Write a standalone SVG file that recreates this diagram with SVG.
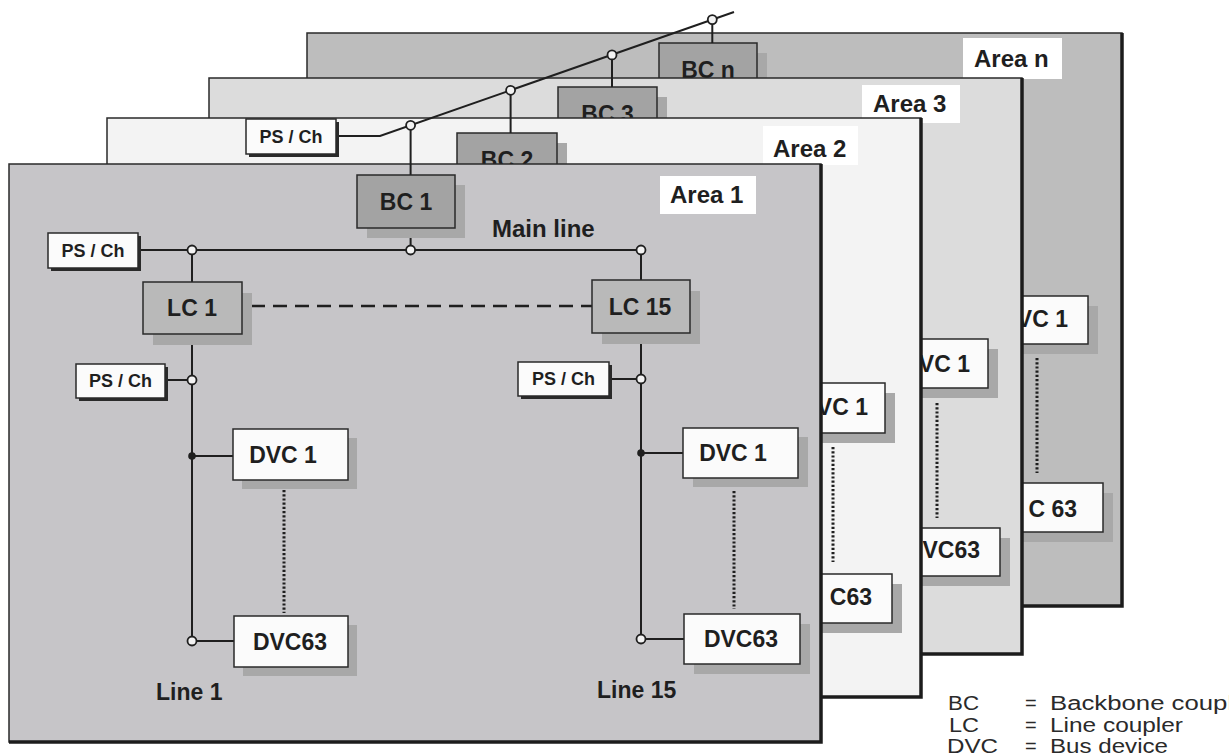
<svg xmlns="http://www.w3.org/2000/svg" width="1229" height="756" viewBox="0 0 1229 756">
<style>
text{font-family:"Liberation Sans",Arial,sans-serif;fill:#1f1f1f}
.lbl{font-size:23px;font-weight:bold}
.alb{font-size:24px;font-weight:bold}
.ps{font-size:18px;font-weight:bold}
.area{stroke:#2a2a2a;stroke-width:1.5}
.edge{fill:none;stroke:#1c1c1c;stroke-width:3.5}
.bc{fill:#a3a3a3;stroke:#2a2a2a;stroke-width:1.5}
.lc{fill:#b9b9b9;stroke:#2a2a2a;stroke-width:1.5}
.wb{fill:#fbfbfb;stroke:#2a2a2a;stroke-width:1.5}
.sh{fill:#a8a8a8}
.psh{fill:#2a2a2a}
.ln{fill:none;stroke:#1f1f1f;stroke-width:2}
.oc{fill:#f2f2f2;stroke:#1f1f1f;stroke-width:1.8}
.fd{fill:#1f1f1f}
.dash{stroke-dasharray:14 8;stroke-width:2.5}
.dot{stroke-dasharray:2.2 2;stroke-width:3}
.leg{font-size:20px;fill:#2a2a2a}
.al{fill:#ffffff}
</style>
<rect width="1229" height="756" fill="#ffffff"/>

<!-- Area n -->
<g id="area-n">
<rect class="area" x="307" y="33" width="815" height="573" fill="#bdbdbd"/>
<path class="edge" d="M1122,33 V606 H307"/>
<rect class="al" x="963" y="38" width="99" height="41"/>
<text class="alb" x="974" y="67">Area n</text>
</g>
<g id="bc-n"><rect class="sh" x="669" y="53" width="98" height="53"/><rect class="bc" x="659" y="43" width="98" height="53"/><text class="lbl" x="708" y="78" text-anchor="middle">BC n</text></g>
<g id="dvc1-n"><rect class="sh" x="983" y="306" width="115" height="48"/><rect class="wb" x="973" y="296" width="115" height="48"/><text class="lbl" x="1068" y="327" text-anchor="end">DVC 1</text></g>
<g id="dvc63-n"><rect class="sh" x="998" y="493" width="115" height="49"/><rect class="wb" x="988" y="483" width="115" height="49"/><text class="lbl" x="1077" y="517" text-anchor="end">DV<tspan dx="7">C 63</tspan></text></g>

<!-- Area 3 -->
<g id="area-3">
<rect class="area" x="209" y="78" width="813" height="576" fill="#dcdcdc"/>
<path class="edge" d="M1022,78 V654 H209"/>
<rect class="al" x="862" y="85" width="98" height="38"/>
<text class="alb" x="873" y="112">Area 3</text>
</g>
<g id="bc-3"><rect class="sh" x="568" y="97" width="99" height="53"/><rect class="bc" x="558" y="87" width="99" height="53"/><text class="lbl" x="607.5" y="122" text-anchor="middle">BC 3</text></g>
<g id="dvc1-3"><rect class="sh" x="883" y="349" width="115" height="49"/><rect class="wb" x="873" y="339" width="115" height="49"/><text class="lbl" x="970" y="372" text-anchor="end">DVC 1</text></g>
<g id="dvc63-3"><rect class="sh" x="895" y="538" width="115" height="48"/><rect class="wb" x="885" y="528" width="115" height="48"/><text class="lbl" x="980" y="558" text-anchor="end">DVC63</text></g>

<!-- Area 2 -->
<g id="area-2">
<rect class="area" x="107" y="118" width="814" height="579" fill="#f3f3f3"/>
<path class="edge" d="M921,118 V697 H107"/>
<rect class="al" x="763" y="126" width="95" height="39"/>
<text class="alb" x="773" y="157">Area 2</text>
</g>
<g id="bc-2"><rect class="sh" x="467" y="143" width="100" height="53"/><rect class="bc" x="457" y="133" width="100" height="53"/><text class="lbl" x="507" y="168" text-anchor="middle">BC 2</text></g>
<g id="dvc1-2"><rect class="sh" x="780" y="393" width="115" height="50"/><rect class="wb" x="770" y="383" width="115" height="50"/><text class="lbl" x="868" y="415" text-anchor="end">DVC 1</text></g>
<g id="dvc63-2"><rect class="sh" x="787" y="584" width="115" height="49"/><rect class="wb" x="777" y="574" width="115" height="49"/><text class="lbl" x="872" y="605" text-anchor="end">DV<tspan dx="8">C63</tspan></text></g>

<!-- Area 1 -->
<g id="area-1">
<rect class="area" x="9" y="164" width="812" height="578" fill="#c6c5c8"/>
<path class="edge" d="M821,164 V742 H9"/>
<rect class="al" x="660" y="176" width="96" height="38"/>
<text class="alb" x="670" y="203">Area 1</text>
</g>

<!-- Connectors -->
<g id="connectors">
<path class="ln" d="M336,136 H380 L734,12"/>
<line class="ln" x1="410.6" y1="125.3" x2="410.6" y2="175"/>
<line class="ln" x1="510.6" y1="90.3" x2="510.6" y2="133"/>
<line class="ln" x1="612" y1="54.9" x2="612" y2="87"/>
<line class="ln" x1="712.3" y1="19.6" x2="712.3" y2="43"/>
<line class="ln" x1="138" y1="250" x2="641" y2="250"/>
<line class="ln" x1="410.6" y1="228" x2="410.6" y2="250"/>
<line class="ln" x1="192" y1="250" x2="192" y2="641"/>
<line class="ln" x1="641" y1="250" x2="641" y2="639"/>
<line class="ln" x1="165" y1="380" x2="192" y2="380"/>
<line class="ln" x1="609" y1="379" x2="641" y2="379"/>
<line class="ln" x1="192" y1="456" x2="233" y2="456"/>
<line class="ln" x1="192" y1="641" x2="234" y2="641"/>
<line class="ln" x1="641" y1="453" x2="683" y2="453"/>
<line class="ln" x1="641" y1="639" x2="684" y2="639"/>
<line class="ln dash" x1="251" y1="306" x2="592" y2="306"/>
<line class="ln dot" x1="284" y1="490" x2="284" y2="613"/>
<line class="ln dot" x1="734" y1="491" x2="734" y2="609"/>
<line class="ln dot" x1="833" y1="447" x2="833" y2="562"/>
<line class="ln dot" x1="937" y1="403" x2="937" y2="518"/>
<line class="ln dot" x1="1037" y1="358" x2="1037" y2="473"/>
<circle class="oc" cx="410.6" cy="125.3" r="4.5"/>
<circle class="oc" cx="510.6" cy="90.3" r="4.5"/>
<circle class="oc" cx="612" cy="54.9" r="4.5"/>
<circle class="oc" cx="712.3" cy="19.6" r="4.5"/>
<circle class="oc" cx="192" cy="250" r="4.5"/>
<circle class="oc" cx="410.6" cy="250" r="4.5"/>
<circle class="oc" cx="641" cy="250" r="4.5"/>
<circle class="oc" cx="192" cy="380" r="4.5"/>
<circle class="oc" cx="641" cy="379" r="4.5"/>
<circle class="fd" cx="192" cy="456" r="3.8"/>
<circle class="fd" cx="641" cy="453" r="3.8"/>
<circle class="oc" cx="192" cy="641" r="4.5"/>
<circle class="oc" cx="641" cy="639" r="4.5"/>
</g>

<!-- Area 1 nodes -->
<g id="ps-backbone"><rect class="psh" x="249" y="122" width="90" height="35"/><rect class="wb" x="246" y="119" width="90" height="35"/><text class="ps" x="291" y="143" text-anchor="middle">PS / Ch</text></g>
<g id="bc-1"><rect class="sh" x="367" y="185" width="98" height="53"/><rect class="bc" x="357" y="175" width="98" height="53"/><text class="lbl" x="406" y="210" text-anchor="middle">BC 1</text></g>
<g id="ps-main"><rect class="psh" x="51" y="236" width="90" height="35"/><rect class="wb" x="48" y="233" width="90" height="35"/><text class="ps" x="93" y="257" text-anchor="middle">PS / Ch</text></g>
<g id="lc-1"><rect class="sh" x="153" y="293" width="99" height="52"/><rect class="lc" x="143" y="282" width="99" height="52"/><text class="lbl" x="192" y="316" text-anchor="middle">LC 1</text></g>
<g id="lc-15"><rect class="sh" x="602" y="291" width="98" height="53"/><rect class="lc" x="592" y="280" width="98" height="53"/><text class="lbl" x="640" y="315" text-anchor="middle">LC 15</text></g>
<g id="ps-line1"><rect class="psh" x="79" y="367" width="89" height="34"/><rect class="wb" x="76" y="364" width="89" height="34"/><text class="ps" x="120.5" y="387" text-anchor="middle">PS / Ch</text></g>
<g id="ps-line15"><rect class="psh" x="521" y="365" width="91" height="34"/><rect class="wb" x="518" y="362" width="91" height="34"/><text class="ps" x="563.5" y="385" text-anchor="middle">PS / Ch</text></g>
<g id="dvc1-l1"><rect class="sh" x="242" y="438" width="115" height="51"/><rect class="wb" x="233" y="429" width="115" height="51"/><text class="lbl" x="283" y="463" text-anchor="middle">DVC 1</text></g>
<g id="dvc63-l1"><rect class="sh" x="243" y="625" width="114" height="51"/><rect class="wb" x="234" y="616" width="114" height="51"/><text class="lbl" x="290" y="650" text-anchor="middle">DVC63</text></g>
<g id="dvc1-l15"><rect class="sh" x="693" y="437" width="115" height="50"/><rect class="wb" x="683" y="428" width="115" height="50"/><text class="lbl" x="733" y="461" text-anchor="middle">DVC 1</text></g>
<g id="dvc63-l15"><rect class="sh" x="694" y="624" width="116" height="50"/><rect class="wb" x="684" y="614" width="116" height="50"/><text class="lbl" x="741" y="647" text-anchor="middle">DVC63</text></g>

<g id="labels">
<text class="alb" x="492" y="237">Main line</text>
<text class="lbl" x="156" y="700">Line 1</text>
<text class="lbl" x="597" y="698">Line 15</text>
</g>

<g id="legend">
<text class="leg" x="948" y="710" textLength="31" lengthAdjust="spacingAndGlyphs">BC</text>
<text class="leg" x="1025" y="710">=</text>
<text class="leg" x="1050" y="710" textLength="206" lengthAdjust="spacingAndGlyphs">Backbone coupler</text>
<text class="leg" x="949" y="732" textLength="30" lengthAdjust="spacingAndGlyphs">LC</text>
<text class="leg" x="1025" y="732">=</text>
<text class="leg" x="1050" y="732" textLength="133" lengthAdjust="spacingAndGlyphs">Line coupler</text>
<text class="leg" x="947" y="753" textLength="51" lengthAdjust="spacingAndGlyphs">DVC</text>
<text class="leg" x="1025" y="753">=</text>
<text class="leg" x="1050" y="753" textLength="118" lengthAdjust="spacingAndGlyphs">Bus device</text>
</g>
</svg>
